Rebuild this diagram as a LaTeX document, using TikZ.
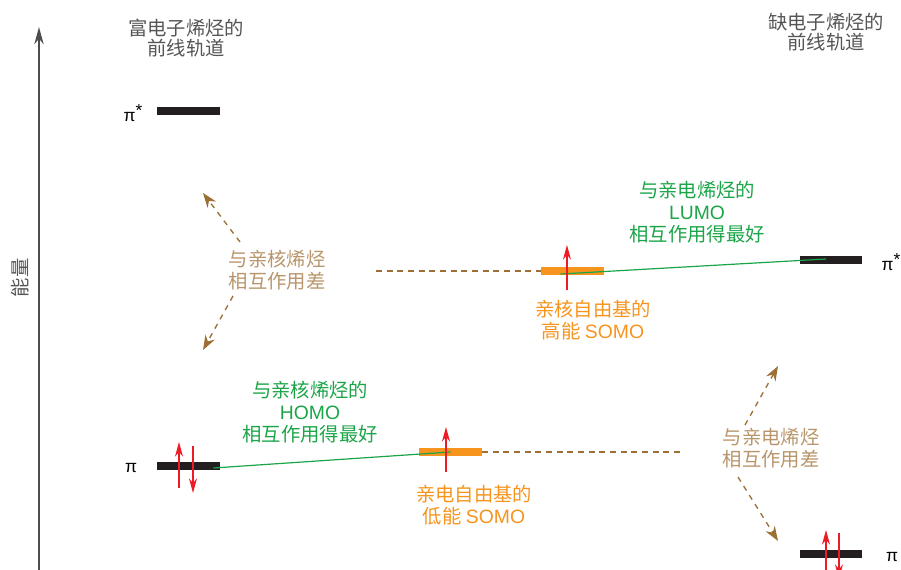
\documentclass[tikz,border=0pt]{standalone}
\usepackage{fontspec}
\setmainfont{Noto Sans CJK SC}
\newfontfamily\cjk{Noto Sans CJK SC}
\newfontfamily\lat{Liberation Sans}
\usetikzlibrary{arrows.meta,calc}
\definecolor{txtgray}{HTML}{555555}
\definecolor{axgray}{HTML}{4D4D4D}
\definecolor{brownln}{HTML}{9C6F35}
\definecolor{browntx}{HTML}{B8956A}
\definecolor{greenc}{HTML}{1BA548}
\definecolor{orangec}{HTML}{F7941D}
\definecolor{redc}{HTML}{ED1C24}
\definecolor{barblack}{HTML}{231F20}
\tikzset{
  lbl/.style={align=center,inner sep=0pt,font=\cjk\fontsize{14.5}{16.5}\selectfont},
  title/.style={lbl,text=txtgray,font=\cjk\fontsize{14.5}{15.5}\selectfont},
  mobar/.style={fill=barblack,minimum width=47pt,minimum height=6.5pt,inner sep=0pt},
  somobar/.style={fill=orangec,minimum width=47pt,minimum height=6pt,inner sep=0pt},
  spinarr/.style={draw=redc,line width=0.9pt,-{Stealth[length=11pt,width=6pt]}},
  weak/.style={draw=brownln,line width=1pt,dash pattern=on 4pt off 4pt,-{Stealth[length=11pt,width=8pt]}},
  guide/.style={draw=brownln,line width=1pt,dash pattern=on 4.5pt off 3.5pt},
  good/.style={draw=greenc,line width=0.9pt},
  pilbl/.style={inner sep=0pt,font=\lat\fontsize{13}{14}\selectfont,text=black}
}
\begin{document}
\begin{tikzpicture}[x=0.75pt,y=-0.75pt]
\useasboundingbox (0,0) rectangle (901,570);
% energy axis
\coordinate (axb) at (39,572);
\coordinate (axt) at (39,27);
\draw[axgray,line width=1.2pt,-{Stealth[length=13pt,width=7pt]}] (axb) -- (axt);
\node[title,rotate=90] (energy) at (20,278) {能量};
% titles
\node[title] (tl) at (186,38) {富电子烯烃的\\前线轨道};
\node[title] (tr) at (826,32) {缺电子烯烃的\\前线轨道};
% MO bars
\node[mobar] (pisL) at (188.5,111) {};
\node[mobar] (piL) at (188.5,466) {};
\node[mobar] (pisR) at (831,260) {};
\node[mobar] (piR) at (831,554) {};
\node[somobar] (somoH) at (572.5,271) {};
\node[somobar] (somoL) at (450.5,452) {};
% pi labels
\node[pilbl] (lpisL) at (133,113) {π\raisebox{0.55ex}{*}};
\node[pilbl] (lpiL) at (131,468) {π};
\node[pilbl] (lpisR) at (891,262) {π\raisebox{0.55ex}{*}};
\node[pilbl] (lpiR) at (892,557) {π};
% green interaction lines
\draw[good] ($(piL.center)+(25,2)$) -- ($(somoL.center)+(0,0)$);
\draw[good] ($(somoH.center)+(-12,3)$) -- ($(pisR.center)+(-5,-1)$);
% dashed guide lines
\coordinate (gH) at (376,271);
\coordinate (gL) at (680,452);
\draw[guide] (gH) -- (somoH.west);
\draw[guide] (somoL.east) -- (gL);
% electron spins
\draw[spinarr] ($(piL.center)+(-9.5,22)$) -- ($(piL.center)+(-9.5,-24)$);
\draw[spinarr] ($(piL.center)+(4.5,-20)$) -- ($(piL.center)+(4.5,27)$);
\draw[spinarr] ($(piR.center)+(-5,22)$) -- ($(piR.center)+(-5,-24)$);
\draw[spinarr] ($(piR.center)+(8,-21)$) -- ($(piR.center)+(8,25)$);
\draw[spinarr] ($(somoL.center)+(-4.5,20)$) -- ($(somoL.center)+(-4.5,-25)$);
\draw[spinarr] ($(somoH.center)+(-5.5,19)$) -- ($(somoH.center)+(-5.5,-26)$);
% labels
\node[lbl,text=greenc] (gl) at (310,412) {与亲核烯烃的\\{\lat HOMO}\\相互作用得最好};
\node[lbl,text=greenc] (gr) at (697,212) {与亲电烯烃的\\{\lat LUMO}\\相互作用得最好};
\node[lbl,text=orangec] (ol) at (474,505) {亲电自由基的\\低能 {\lat SOMO}};
\node[lbl,text=orangec] (oh) at (593,320) {亲核自由基的\\高能 {\lat SOMO}};
\node[lbl,text=browntx] (bl) at (277,270) {与亲核烯烃\\相互作用差};
\node[lbl,text=browntx] (br) at (771,448) {与亲电烯烃\\相互作用差};
% weak interaction arrows
\coordinate (blu) at (240,242);
\coordinate (blut) at (203,193);
\coordinate (bld) at (233,296);
\coordinate (bldt) at (203,350);
\coordinate (bru) at (745,425);
\coordinate (brut) at (778,366);
\coordinate (brd) at (738,477);
\coordinate (brdt) at (778,541);
\draw[weak] (blu) -- (blut);
\draw[weak] (bld) -- (bldt);
\draw[weak] (bru) -- (brut);
\draw[weak] (brd) -- (brdt);
\end{tikzpicture}
\end{document}
